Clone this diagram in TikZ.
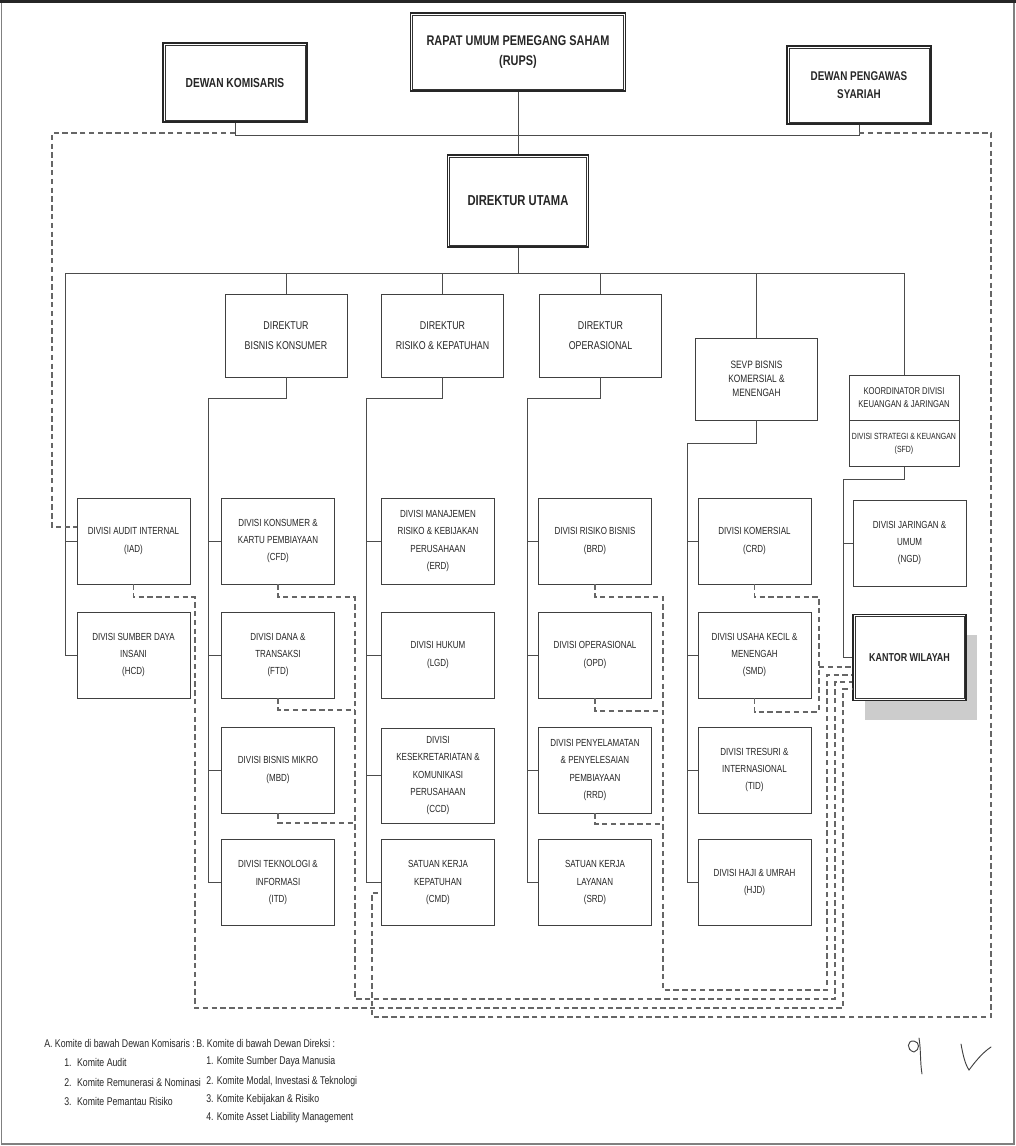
\documentclass[tikz,border=0pt]{standalone}
\usepackage{fontspec}
\setmainfont{Liberation Sans}[FakeStretch=0.78]
\usetikzlibrary{calc}
\begin{document}
\begin{tikzpicture}[x=0.75pt,y=-0.75pt,
  box/.style={draw=black!75, line width=0.7pt, fill=white, align=center, inner sep=0pt, text=black!85},
  divbox/.style={box, minimum width=84.75pt, minimum height=64.5pt, font=\fontsize{7.7}{13}\selectfont},
  dirbox/.style={box, minimum width=91.5pt, minimum height=62.25pt, font=\fontsize{8.5}{15.5}\selectfont},
  headbox/.style={box, draw=black!85, line width=1.3pt, font=\bfseries\fontsize{10.5}{15}\selectfont},
  innerline/.style={draw=black!80, line width=0.5pt},
  wire/.style={draw=black!70, line width=0.6pt},
  dashlink/.style={draw=black!60, line width=0.8pt, dash pattern=on 4pt off 2.6pt},
  legend/.style={anchor=west, inner sep=0pt, font=\fontsize{8.4}{10}\selectfont, text=black!85},
]
\useasboundingbox (0,0) rectangle (1016,1146);
% picture frame
\draw[black!50, line width=1pt] (1.5,1.5) rectangle (1014,1144);
\draw[black!85, line width=2.5pt] (0,1.5) -- (1016,1.5);

% top level
\node[headbox, minimum width=161.25pt, minimum height=58.5pt] (rups) at (518,52) {RAPAT UMUM PEMEGANG SAHAM\\(RUPS)};
\node[headbox, minimum width=108pt, minimum height=59.25pt, font=\bfseries\fontsize{9.8}{15}\selectfont] (dk) at (235,82.5) {DEWAN KOMISARIS};
\node[headbox, minimum width=108pt, minimum height=58.5pt, font=\bfseries\fontsize{9.5}{14}\selectfont] (dps) at (859,85) {DEWAN PENGAWAS\\SYARIAH};
\node[headbox, minimum width=105.75pt, minimum height=69pt, font=\bfseries\fontsize{10.8}{15}\selectfont] (du) at (518,201) {DIREKTUR UTAMA};

% directors
\node[dirbox] (dbk) at (286,335.5) {DIREKTUR\\BISNIS KONSUMER};
\node[dirbox] (drk) at (442.5,335.5) {DIREKTUR\\RISIKO \& KEPATUHAN};
\node[dirbox] (dop) at (600.5,335.5) {DIREKTUR\\OPERASIONAL};
\node[dirbox, minimum height=61.5pt, font=\fontsize{8}{10.5}\selectfont] (sevp) at (756.5,379) {SEVP BISNIS\\KOMERSIAL \&\\MENENGAH};
\node[box, minimum width=82.5pt, minimum height=33.75pt, font=\fontsize{7.4}{10}\selectfont] (koord) at (904,397.5) {KOORDINATOR DIVISI\\KEUANGAN \& JARINGAN};
\node[box, minimum width=82.5pt, minimum height=34.5pt, font=\fontsize{6.7}{10}\selectfont, anchor=north] (sfd) at (koord.south) {DIVISI STRATEGI \& KEUANGAN\\(SFD)};

% divisions
\node[divbox] (ad)  at (133.5,541) {DIVISI AUDIT INTERNAL\\(IAD)};
\node[divbox] (hcd) at (133.5,655) {DIVISI SUMBER DAYA\\INSANI\\(HCD)};
\node[divbox] (cfd) at (278,541) {DIVISI KONSUMER \&\\KARTU PEMBIAYAAN\\(CFD)};
\node[divbox] (ftd) at (278,655) {DIVISI DANA \&\\TRANSAKSI\\(FTD)};
\node[divbox] (mbd) at (278,770) {DIVISI BISNIS MIKRO\\(MBD)};
\node[divbox] (itd) at (278,882.5) {DIVISI TEKNOLOGI \&\\INFORMASI\\(ITD)};
\node[divbox] (erd) at (438,541) {DIVISI MANAJEMEN\\RISIKO \& KEBIJAKAN\\PERUSAHAAN\\(ERD)};
\node[divbox] (lgd) at (438,655) {DIVISI HUKUM\\(LGD)};
\node[divbox, minimum height=71.25pt] (ccd) at (438,775.5) {DIVISI\\KESEKRETARIATAN \&\\KOMUNIKASI\\PERUSAHAAN\\(CCD)};
\node[divbox] (cmd) at (438,882.5) {SATUAN KERJA\\KEPATUHAN\\(CMD)};
\node[divbox] (brd) at (595,541) {DIVISI RISIKO BISNIS\\(BRD)};
\node[divbox] (opd) at (595,655) {DIVISI OPERASIONAL\\(OPD)};
\node[divbox] (rrd) at (595,770) {DIVISI PENYELAMATAN\\\& PENYELESAIAN\\PEMBIAYAAN\\(RRD)};
\node[divbox] (srd) at (595,882.5) {SATUAN KERJA\\LAYANAN\\(SRD)};
\node[divbox] (crd) at (754.5,541) {DIVISI KOMERSIAL\\(CRD)};
\node[divbox] (smd) at (754.5,655) {DIVISI USAHA KECIL \&\\MENENGAH\\(SMD)};
\node[divbox] (tid) at (754.5,770) {DIVISI TRESURI \&\\INTERNASIONAL\\(TID)};
\node[divbox] (hjd) at (754.5,882.5) {DIVISI HAJI \& UMRAH\\(HJD)};
\node[divbox] (ngd) at (909.5,543) {DIVISI JARINGAN \&\\UMUM\\(NGD)};
\fill[black!20] (865,635) rectangle (977,720);
\node[divbox, draw=black!85, line width=1.3pt, font=\bfseries\fontsize{8.6}{13}\selectfont] (kw) at (909.5,657.5) {KANTOR WILAYAH};

% double borders of the leading boxes
\foreach \n in {rups,dk,dps,du,kw}
  \draw[innerline] ($(\n.north west)+(3,3)$) rectangle ($(\n.south east)+(-3,-3)$);

% solid reporting lines
\coordinate (bar) at (0,135);
\draw[wire] (rups.south) -- (du.north);
\draw[wire] (dk.south) -- (dk.south |- bar) -- (dps.south |- bar) -- (dps.south);
\coordinate (k0) at (65,273);
\draw[wire] (du.south) -- (du.south |- k0);
\draw[wire] (k0) -- (koord.north |- k0) -- (koord.north);
\foreach \n in {dbk,drk,dop,sevp} \draw[wire] (\n.north |- k0) -- (\n.north);
\draw[wire] (k0) |- (hcd.west);
\draw[wire] (k0 |- ad.west) -- (ad.west);
\coordinate (k1) at (208,398);
\coordinate (k2) at (366,398);
\coordinate (k3) at (527,398);
\coordinate (k4) at (687,443);
\coordinate (k5) at (843,479);
\draw[wire] (dbk.south) |- (k1) |- (itd.west);
\foreach \n in {cfd,ftd,mbd} \draw[wire] (k1 |- \n.west) -- (\n.west);
\draw[wire] (drk.south) |- (k2) |- (cmd.west);
\foreach \n in {erd,lgd,ccd} \draw[wire] (k2 |- \n.west) -- (\n.west);
\draw[wire] (dop.south) |- (k3) |- (srd.west);
\foreach \n in {brd,opd,rrd} \draw[wire] (k3 |- \n.west) -- (\n.west);
\draw[wire] (sevp.south) |- (k4) |- (hjd.west);
\foreach \n in {crd,smd,tid} \draw[wire] (k4 |- \n.west) -- (\n.west);
\draw[wire] (sfd.south) |- (k5) |- (kw.west);
\draw[wire] (k5 |- ngd.west) -- (ngd.west);

% dashed coordination lines
\coordinate (gdk) at (52,133);
\coordinate (gdk2) at (52,527);
\draw[dashlink] (dk.south |- gdk) -- (gdk) -- (gdk2) -- (ad.west |- gdk2);
\coordinate (gfr2) at (991,133);
\coordinate (gfr) at (991,1017);
\coordinate (gm2) at (372,1017);
\coordinate (gm) at (372,893);
\draw[dashlink] (dps.south |- gfr2) -- (gfr2) -- (gfr) -- (gm2) -- (gm) -- (cmd.west |- gm);

\coordinate (ga) at (195,597);
\coordinate (va) at (195,1008);
\coordinate (kwa) at (843,689);
\draw[dashlink] (ad.south) |- (ga) -- (va) -| (kwa) -- (kw.west |- kwa);

\coordinate (gb1) at (355,597);
\coordinate (gb2) at (355,710);
\coordinate (gb3) at (355,823);
\coordinate (vb) at (355,999);
\coordinate (kwb) at (835,682);
\draw[dashlink] (cfd.south) |- (gb1) -- (vb) -| (kwb) -- (kw.west |- kwb);
\draw[dashlink] (ftd.south) |- (gb2);
\draw[dashlink] (mbd.south) |- (gb3);

\coordinate (gc1) at (663,597);
\coordinate (gc2) at (663,711);
\coordinate (gc3) at (663,824);
\coordinate (vc) at (663,990);
\coordinate (kwc) at (827,675);
\draw[dashlink] (brd.south) |- (gc1) -- (vc) -| (kwc) -- (kw.west |- kwc);
\draw[dashlink] (opd.south) |- (gc2);
\draw[dashlink] (rrd.south) |- (gc3);

\coordinate (gd1) at (819,597);
\coordinate (gd2) at (819,712);
\coordinate (gd3) at (819,667);
\draw[dashlink] (crd.south) |- (gd1) -- (gd2);
\draw[dashlink] (smd.south) |- (gd2);
\draw[dashlink] (gd3) -- (kw.west |- gd3);

% legend
\node[legend] (la)  at (44,1043) {A. Komite di bawah Dewan Komisaris :};
\node[legend] (la1) at (64,1062) {1.\enspace Komite Audit};
\node[legend] (la2) at (64,1082) {2.\enspace Komite Remunerasi \& Nominasi};
\node[legend] (la3) at (64,1101) {3.\enspace Komite Pemantau Risiko};
\node[legend] (lb)  at (196,1043) {B. Komite di bawah Dewan Direksi :};
\node[legend] (lb1) at (206,1062) {1. Komite Sumber Daya Manusia};
\node[legend] (lb2) at (206,1082) {2. Komite Modal, Investasi \& Teknologi};
\node[legend] (lb3) at (206,1100) {3. Komite Kebijakan \& Risiko};
\node[legend] (lb4) at (206,1118) {4. Komite Asset Liability Management};

% signatures
\draw[black!75, line width=0.7pt, line cap=round] (914,1052) .. controls (906,1050) and (907,1040) .. (914,1041) .. controls (920,1042) and (920,1050) .. (914,1052) (919,1038) .. controls (921,1050) and (920,1062) .. (922,1074);
\draw[black!75, line width=0.7pt, line cap=round] (961,1044) .. controls (963,1055) and (965,1064) .. (969,1070) .. controls (975,1062) and (982,1053) .. (991,1047);
\end{tikzpicture}
\end{document}
